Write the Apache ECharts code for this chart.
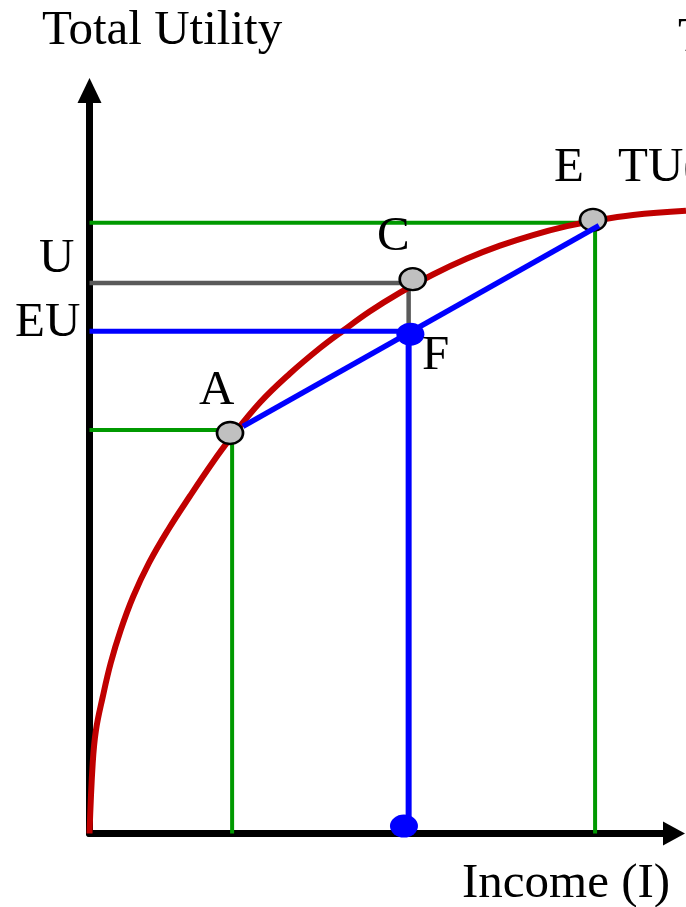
<!DOCTYPE html>
<html>
<head>
<meta charset="utf-8">
<style>
  html, body { margin: 0; padding: 0; background: #fff; }
  #chart { width: 686px; height: 907px; }
</style>
<script src="https://cdn.jsdelivr.net/npm/echarts@6/dist/echarts.min.js"></script>
</head>
<body>
<div id="chart"></div>
<script>
// total utility curve TU(I) (income 0-100, utility 0-100)
var tuCurve = [
  [0, 0], [0.55, 9.49], [1.11, 13.93], [2.26, 18.37], [3.63, 22.95],
  [5.34, 27.39], [7.44, 31.83], [10.18, 36.41], [13.43, 40.85], [17.19, 45.42],
  [21.13, 50.0], [24.04, 53.1], [29.17, 58.0], [34.3, 61.91], [39.44, 65.34],
  [43.37, 67.67], [47.99, 70.28], [53.12, 72.79], [58.77, 75.24], [64.59, 77.39],
  [70.23, 79.12], [75.88, 80.55], [81.69, 81.74], [86.14, 82.44], [92.99, 83.24],
  [102.05, 83.81]
];

// grey points A, C, E
var pointsACE = [[24.04, 53.9], [55.3, 74.6], [86.14, 82.6]];
// blue points F and the income under it
var pointsBlue = [[54.9, 67.2], [53.8, 1.0]];

// guide lines
var greenTop = [[0, 82.2], [86.5, 82.2], [86.5, 0]];
var greenA = [[0, 54.3], [24.4, 54.3], [24.4, 0]];
var greyU = [[0, 74.1], [54.6, 74.1], [54.6, 67.4]];
var blueEU = [[0, 67.6], [54.6, 67.6]];
var blueDown = [[54.6, 67.6], [54.6, 1.0]];
var blueChord = [[26.26, 54.8], [87.17, 81.8]];

var FONT = '49px "Liberation Serif", "Times New Roman", serif';

// texts: [text, x, y]
var labels = [
  ["Total Utility", 42, 31],
  ["T", 678, 38],
  ["E", 554, 168],
  ["TU(I)", 618, 168],
  ["C", 377, 237],
  ["U", 39, 259],
  ["EU", 15, 323],
  ["A", 199, 391],
  ["F", 422, 356],
  ["Income (I)", 462, 884]
];

// the curve runs past the arrow, so marks sit on a second grid that reaches
// the right edge, with the same px-per-unit scale as the visible axes
var LEFT = 89.5, GRID_W = 584.5, X_MAX = 100;
var X_MAX_PLOT = X_MAX * (686 - LEFT) / GRID_W;

function lineSeries(data, color, width, z) {
  return {
    type: "line",
    data: data,
    xAxisIndex: 1,
    yAxisIndex: 1,
    showSymbol: false,
    silent: true,
    z: z,
    lineStyle: { color: color, width: width, cap: "butt", join: "miter" }
  };
}

function hiddenAxis(max) {
  return { type: "value", min: 0, max: max, gridIndex: 1, show: false };
}

var myChart = echarts.init(document.getElementById("chart"), null, { renderer: "canvas" });

var option = {
  animation: false,
  backgroundColor: "#fff",
  grid: [
    { left: LEFT, top: 90.5, width: GRID_W, height: 743 },
    { left: LEFT, top: 90.5, right: 0, height: 743 }
  ],
  xAxis: [
    {
      type: "value", min: 0, max: X_MAX,
      axisLine: {
        show: true, symbol: ["none", "triangle"], symbolSize: [24, 22],
        lineStyle: { color: "#000", width: 7 }
      },
      axisTick: { show: false }, axisLabel: { show: false }, splitLine: { show: false }
    },
    hiddenAxis(X_MAX_PLOT)
  ],
  yAxis: [
    {
      type: "value", min: 0, max: 100,
      axisLine: {
        show: true, symbol: ["none", "triangle"], symbolSize: [24, 25],
        lineStyle: { color: "#000", width: 7 }
      },
      axisTick: { show: false }, axisLabel: { show: false }, splitLine: { show: false }
    },
    hiddenAxis(100)
  ],
  series: [
    lineSeries(greenTop, "#009900", 4, 1),
    lineSeries(greenA, "#009900", 4, 1),
    lineSeries(greyU, "#5a5a5a", 4.5, 1),
    Object.assign(lineSeries(tuCurve, "#c00000", 6, 2), { smooth: 0.4 }),
    {
      type: "scatter",
      data: pointsACE,
      xAxisIndex: 1,
      yAxisIndex: 1,
      symbol: "circle",
      symbolSize: [26, 22],
      silent: true,
      z: 3,
      itemStyle: { color: "#c0c0c0", borderColor: "#000", borderWidth: 2.5, opacity: 1 }
    },
    lineSeries(blueEU, "#0000ff", 5, 4),
    lineSeries(blueDown, "#0000ff", 6, 4),
    lineSeries(blueChord, "#0000ff", 5.5, 4),
    {
      type: "scatter",
      data: pointsBlue,
      xAxisIndex: 1,
      yAxisIndex: 1,
      symbol: "circle",
      symbolSize: [28, 23],
      silent: true,
      z: 5,
      itemStyle: { color: "#0000ff", opacity: 1 }
    }
  ],
  graphic: labels.map(function (l) {
    return {
      type: "text",
      z: 10,
      style: {
        text: l[0], x: l[1], y: l[2],
        font: FONT, fill: "#000",
        textAlign: "left", textVerticalAlign: "middle"
      }
    };
  })
};

myChart.setOption(option);
</script>
</body>
</html>
